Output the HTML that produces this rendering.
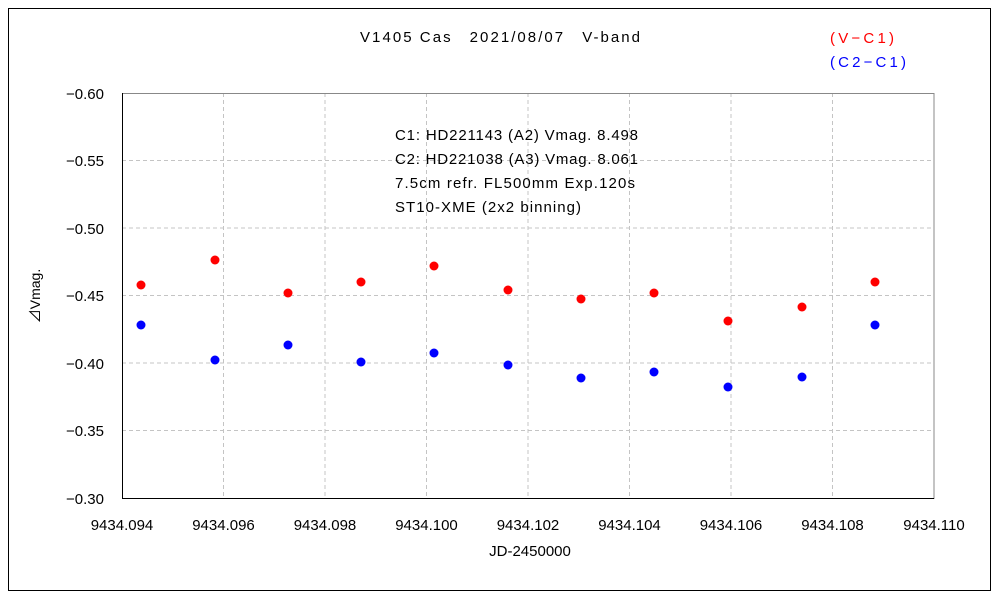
<!DOCTYPE html>
<html><head><style>body{margin:0;background:#fff}svg{display:block}text{font-family:"Liberation Sans","Noto Sans CJK JP",sans-serif;font-size:15px}</style></head><body>
<svg width="1000" height="600" xmlns="http://www.w3.org/2000/svg">
<rect x="8.5" y="8.5" width="982" height="582" fill="#fff" stroke="#000"/>
<g stroke="#c4c4c4" stroke-dasharray="4,3">
<line x1="223.5" y1="93" x2="223.5" y2="498"/><line x1="325" y1="93" x2="325" y2="498"/><line x1="426.5" y1="93" x2="426.5" y2="498"/><line x1="528" y1="93" x2="528" y2="498"/><line x1="629.5" y1="93" x2="629.5" y2="498"/><line x1="731" y1="93" x2="731" y2="498"/><line x1="832.5" y1="93" x2="832.5" y2="498"/>
<line x1="122" y1="160.5" x2="934" y2="160.5"/><line x1="122" y1="228" x2="934" y2="228"/><line x1="122" y1="295.5" x2="934" y2="295.5"/><line x1="122" y1="363" x2="934" y2="363"/><line x1="122" y1="430.5" x2="934" y2="430.5"/>
</g>
<rect x="122.5" y="93.5" width="811.5" height="405" fill="none" stroke="#888"/>
<line x1="122.5" y1="93" x2="122.5" y2="498" stroke="#000"/>
<line x1="122" y1="498.5" x2="934" y2="498.5" stroke="#000"/>
<g fill="#000">
<text x="104" y="99" text-anchor="end">−0.60</text><text x="104" y="166" text-anchor="end">−0.55</text><text x="104" y="234" text-anchor="end">−0.50</text><text x="104" y="301" text-anchor="end">−0.45</text><text x="104" y="369" text-anchor="end">−0.40</text><text x="104" y="436" text-anchor="end">−0.35</text><text x="104" y="504" text-anchor="end">−0.30</text>
<g text-anchor="middle"><text x="122" y="530">9434.094</text><text x="223.5" y="530">9434.096</text><text x="325" y="530">9434.098</text><text x="426.5" y="530">9434.100</text><text x="528" y="530">9434.102</text><text x="629.5" y="530">9434.104</text><text x="731" y="530">9434.106</text><text x="832.5" y="530">9434.108</text><text x="934" y="530">9434.110</text>
<text x="530" y="556">JD-2450000</text></g>
<text x="360" y="42" textLength="280" lengthAdjust="spacing">V1405 Cas　2021/08/07　V-band</text>
<text x="40" y="296" text-anchor="middle" transform="rotate(-90 40 296)" style="font-size:14px">⊿Vmag.</text>
<text x="395" y="140" textLength="243" lengthAdjust="spacing">C1: HD221143 (A2) Vmag. 8.498</text>
<text x="395" y="164" textLength="243" lengthAdjust="spacing">C2: HD221038 (A3) Vmag. 8.061</text>
<text x="395" y="188" textLength="240" lengthAdjust="spacing">7.5cm refr. FL500mm Exp.120s</text>
<text x="395" y="212" textLength="186" lengthAdjust="spacing">ST10-XME (2x2 binning)</text>
</g>
<text x="830" y="43" fill="#f00" textLength="64" lengthAdjust="spacing">(V−C1)</text>
<text x="830" y="67" fill="#00f" textLength="76" lengthAdjust="spacing">(C2−C1)</text>
<g fill="#f00"><circle cx="141" cy="285" r="4.5"/><circle cx="215" cy="260" r="4.5"/><circle cx="288" cy="293" r="4.5"/><circle cx="361" cy="282" r="4.5"/><circle cx="434" cy="266" r="4.5"/><circle cx="508" cy="290" r="4.5"/><circle cx="581" cy="299" r="4.5"/><circle cx="654" cy="293" r="4.5"/><circle cx="728" cy="321" r="4.5"/><circle cx="802" cy="307" r="4.5"/><circle cx="875" cy="282" r="4.5"/></g>
<g fill="#00f"><circle cx="141" cy="325" r="4.5"/><circle cx="215" cy="360" r="4.5"/><circle cx="288" cy="345" r="4.5"/><circle cx="361" cy="362" r="4.5"/><circle cx="434" cy="353" r="4.5"/><circle cx="508" cy="365" r="4.5"/><circle cx="581" cy="378" r="4.5"/><circle cx="654" cy="372" r="4.5"/><circle cx="728" cy="387" r="4.5"/><circle cx="802" cy="377" r="4.5"/><circle cx="875" cy="325" r="4.5"/></g>
</svg>
</body></html>
